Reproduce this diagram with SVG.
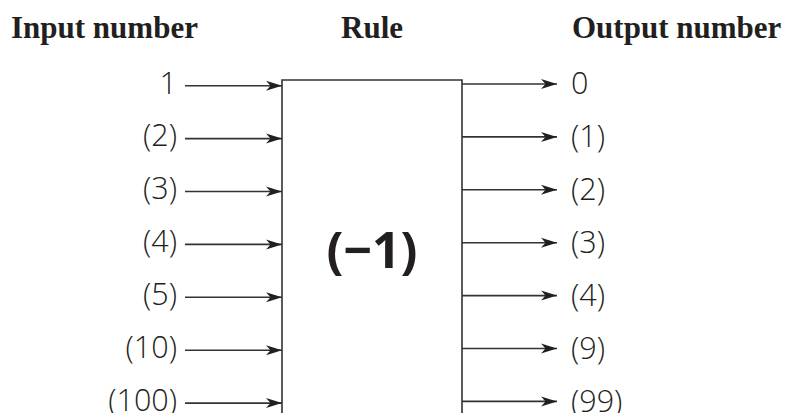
<svg xmlns="http://www.w3.org/2000/svg" width="786" height="413" viewBox="0 0 786 413">
<style>
.title{font-family:"Liberation Serif","Times New Roman",serif;font-weight:bold;font-size:31px;fill:#231f20}
.num{font-family:"Open Sans","Liberation Sans",sans-serif;font-weight:300;font-size:30.5px;fill:#231f20}
.rule{font-family:"Open Sans","Liberation Sans",sans-serif;font-weight:bold;font-size:50px;fill:#231f20}
.ln{stroke:#333;stroke-width:1.6;fill:none}
</style>
<defs>
<marker id="ah" markerUnits="userSpaceOnUse" markerWidth="18" markerHeight="12" viewBox="0 -6 18 12" refX="16" refY="0" orient="auto">
<path d="M0,-5 L16,0 L0,5 L4.5,0 Z" fill="#231f20"/>
</marker>
</defs>
<rect width="786" height="413" fill="#fff"/>
<g id="titles">
<text class="title" x="11" y="38">Input number</text>
<text class="title" x="372" y="38" text-anchor="middle">Rule</text>
<text class="title" x="572" y="38">Output number</text>
</g>
<g id="rule-box">
<path class="ln" d="M282,414 V80 H462 V414"/>
<text class="rule" x="372" y="268" text-anchor="middle">(−1)</text>
</g>
<g id="inputs">
<text class="num" x="177" y="93.5" text-anchor="end">1</text>
<text class="num" x="177" y="146.4" text-anchor="end">(2)</text>
<text class="num" x="177" y="199.3" text-anchor="end">(3)</text>
<text class="num" x="177" y="252.2" text-anchor="end">(4)</text>
<text class="num" x="177" y="305.1" text-anchor="end">(5)</text>
<text class="num" x="177" y="358" text-anchor="end">(10)</text>
<text class="num" x="177" y="410.9" text-anchor="end">(100)</text>
</g>
<g id="outputs">
<text class="num" x="571" y="94.3">0</text>
<text class="num" x="571" y="147.2">(1)</text>
<text class="num" x="571" y="200.1">(2)</text>
<text class="num" x="571" y="253">(3)</text>
<text class="num" x="571" y="305.9">(4)</text>
<text class="num" x="571" y="358.8">(9)</text>
<text class="num" x="571" y="411.7">(99)</text>
</g>
<g id="connectors">
<line class="ln" x1="185" y1="85.7" x2="282" y2="85.7" marker-end="url(#ah)"/>
<line class="ln" x1="185" y1="138.6" x2="282" y2="138.6" marker-end="url(#ah)"/>
<line class="ln" x1="185" y1="191.5" x2="282" y2="191.5" marker-end="url(#ah)"/>
<line class="ln" x1="185" y1="244.4" x2="282" y2="244.4" marker-end="url(#ah)"/>
<line class="ln" x1="185" y1="297.3" x2="282" y2="297.3" marker-end="url(#ah)"/>
<line class="ln" x1="185" y1="350.2" x2="282" y2="350.2" marker-end="url(#ah)"/>
<line class="ln" x1="185" y1="403.1" x2="282" y2="403.1" marker-end="url(#ah)"/>
<line class="ln" x1="462" y1="84" x2="557" y2="84" marker-end="url(#ah)"/>
<line class="ln" x1="462" y1="136.9" x2="557" y2="136.9" marker-end="url(#ah)"/>
<line class="ln" x1="462" y1="189.8" x2="557" y2="189.8" marker-end="url(#ah)"/>
<line class="ln" x1="462" y1="242.7" x2="557" y2="242.7" marker-end="url(#ah)"/>
<line class="ln" x1="462" y1="295.6" x2="557" y2="295.6" marker-end="url(#ah)"/>
<line class="ln" x1="462" y1="348.5" x2="557" y2="348.5" marker-end="url(#ah)"/>
<line class="ln" x1="462" y1="401.4" x2="557" y2="401.4" marker-end="url(#ah)"/>
</g>
</svg>
